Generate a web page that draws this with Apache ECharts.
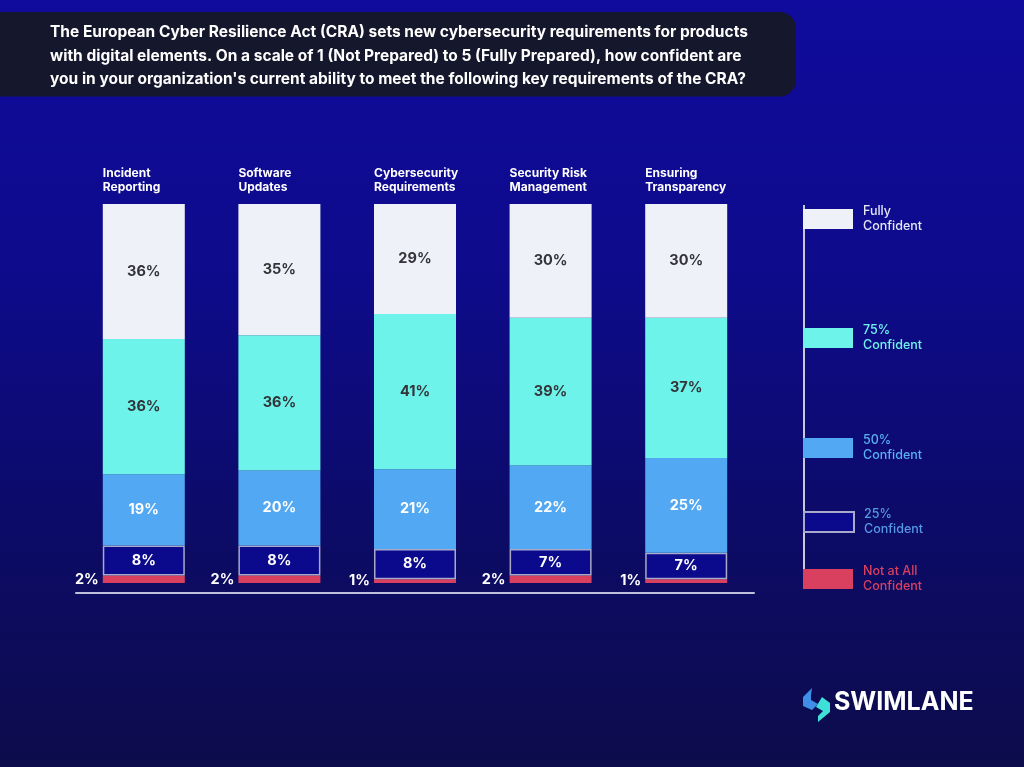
<!DOCTYPE html>
<html><head><meta charset="utf-8">
<script src="https://cdn.jsdelivr.net/npm/echarts@6/dist/echarts.min.js"></script>
<style>html,body{margin:0;padding:0;background:#0b0a60;}#c{width:1024px;height:767px;}</style>
</head><body><div id="c"></div>
<script>
const titleText = "The European Cyber Resilience Act (CRA) sets new cybersecurity requirements for products\nwith digital elements. On a scale of 1 (Not Prepared) to 5 (Fully Prepared), how confident are\nyou in your organization's current ability to meet the following key requirements of the CRA?";
const categories = ["Incident\nReporting", "Software\nUpdates", "Cybersecurity\nRequirements", "Security Risk\nManagement", "Ensuring\nTransparency"];
const seriesNames = ["Not at All\nConfident", "25%\nConfident", "50%\nConfident", "75%\nConfident", "Fully\nConfident"];
const notAtAll = [2, 2, 1, 2, 1];
const conf25 = [8, 8, 8, 7, 7];
const conf50 = [19, 20, 21, 22, 25];
const conf75 = [36, 36, 41, 39, 37];
const fully = [36, 35, 29, 30, 30];
const brand = "SWIMLANE";

const raw = [notAtAll, conf25, conf50, conf75, fully];
const totals = categories.map((_, i) => raw.reduce((s, a) => s + a[i], 0));
const norm = arr => arr.map((v, i) => v / totals[i] * 100);

const colors = ['#d9405f', '#0b0a8c', '#52a8f2', '#6ef3ea', '#eef2f8'];
const labelColors = ['#ffffff', '#ffffff', '#ffffff', '#333338', '#333338'];
const legendText = ['#d9405f', '#5598e6', '#5aaef2', '#6ef3ea', '#e4e8f4'];
const legendTops = [564, 507, 433, 323, 204];
const FONT = 'Inter, "Open Sans", sans-serif';

const series = raw.map((arr, k) => ({
  name: seriesNames[k],
  type: 'bar',
  stack: 'a',
  barWidth: 82,
  data: norm(arr),
  itemStyle: {
    color: colors[k],
    borderColor: k === 1 ? '#a9a9cc' : colors[k],
    borderWidth: k === 1 ? 1.5 : 0
  },
  label: {
    show: true,
    position: k === 0 ? 'left' : 'inside',
    distance: 4,
    formatter: p => arr[p.dataIndex] + '%',
    color: labelColors[k],
    fontFamily: FONT,
    fontWeight: 700,
    fontSize: 14.5
  },
  emphasis: {disabled: true}
}));
series.push({
  name: 'cat',
  type: 'bar',
  stack: 'a',
  barWidth: 82,
  data: categories.map(() => 0),
  itemStyle: {color: 'transparent'},
  label: {
    show: true,
    position: [0, -38],
    align: 'left',
    verticalAlign: 'top',
    formatter: p => categories[p.dataIndex],
    color: '#ffffff',
    fontFamily: FONT,
    fontWeight: 700,
    fontSize: 12,
    lineHeight: 14
  },
  emphasis: {disabled: true}
});

const legends = seriesNames.map((n, k) => ({
  data: [n],
  left: 803,
  top: legendTops[k],
  orient: 'vertical',
  padding: 0,
  itemWidth: 50,
  itemHeight: 20,
  icon: 'rect',
  selectedMode: false,
  textStyle: {color: legendText[k], fontFamily: FONT, fontSize: 12.5, lineHeight: 15, fontWeight: 500, padding: [0, 0, 0, 5]}
}));

const chart = echarts.init(document.getElementById('c'));
chart.setOption({
  animation: false,
  backgroundColor: {
    type: 'linear', x: 0, y: 0, x2: 0, y2: 1,
    colorStops: [
      {offset: 0, color: '#100b9c'},
      {offset: 0.35, color: '#0e0b8c'},
      {offset: 0.7, color: '#0c0b66'},
      {offset: 1, color: '#0c0c4c'}
    ]
  },
  title: {
    text: titleText,
    left: 0, top: 12,
    padding: [9, 48, 5, 50],
    backgroundColor: '#15172c',
    borderRadius: [0, 16, 16, 0],
    textStyle: {color: '#ffffff', fontFamily: FONT, fontWeight: 700, fontSize: 15.5, lineHeight: 23.5}
  },
  grid: {left: 76, right: 270, top: 204, bottom: 184},
  xAxis: {
    type: 'category',
    data: categories,
    offset: 10,
    axisLine: {show: true, onZero: false, lineStyle: {color: '#c0c0dc', width: 2}},
    axisTick: {show: false},
    axisLabel: {show: false}
  },
  yAxis: {type: 'value', min: 0, max: 100, show: false},
  legend: legends,
  series: series,
  graphic: [
    {type: 'line', shape: {x1: 804, y1: 205, x2: 804, y2: 584}, style: {stroke: '#c8c8dc', lineWidth: 2}, z: -1},
    {type: 'polygon', shape: {points: [[812, 688], [803, 697], [803, 706], [812, 710], [818, 704], [811, 700], [811, 695]]}, style: {fill: '#3f8fe8'}},
    {type: 'polygon', shape: {points: [[822, 697], [830, 703], [830, 712], [818, 722], [818, 716], [823, 711], [816, 707]]}, style: {fill: '#3fe0d8'}},
    {type: 'text', left: 834, top: 690, style: {text: brand, fill: '#ffffff', font: '700 25px ' + FONT}}
  ]
});
</script></body></html>
